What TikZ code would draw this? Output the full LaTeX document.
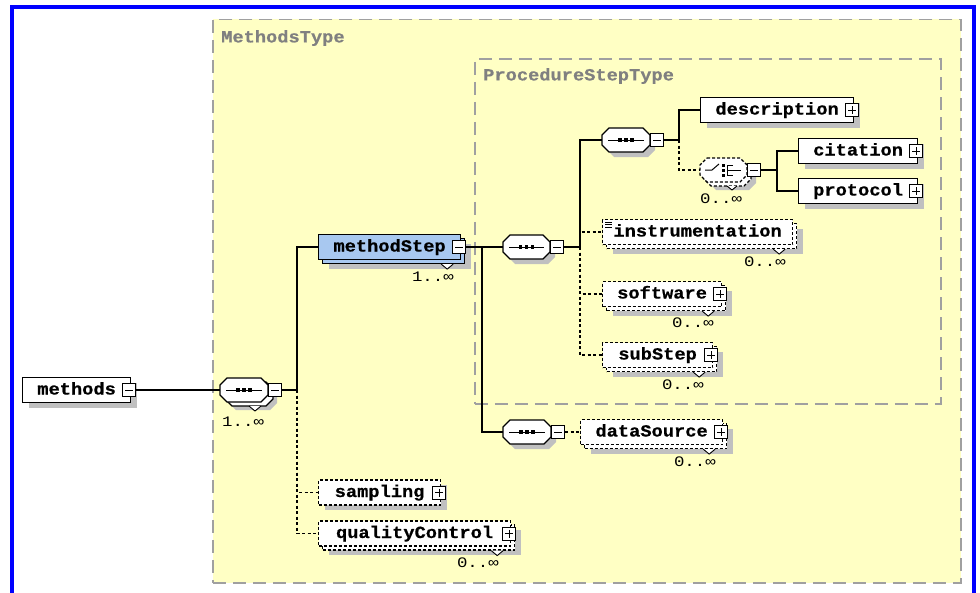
\documentclass[tikz,border=0pt]{standalone}
\usepackage{fontspec}
\newfontfamily\xsdmono{Liberation Mono}[FakeStretch=1.1,FakeBold=0.6]
\newfontfamily\xsdmult{Liberation Mono}[FakeStretch=1.2]
\usetikzlibrary{shadows,calc}
\definecolor{yel}{RGB}{255,255,196}
\definecolor{framegray}{RGB}{160,160,160}
\definecolor{shad}{RGB}{192,192,192}
\definecolor{stepblue}{RGB}{168,200,240}
\definecolor{frameblue}{RGB}{0,0,255}
\definecolor{lblgray}{RGB}{128,128,128}
\newcommand{\lblf}{\xsdmono\bfseries\fontsize{17}{17}\selectfont}
\newcommand{\multf}{\xsdmult\fontsize{14.5}{14.5}\selectfont}
\newcommand{\octo}[4]{%
  \path[#4] (#1+7,#2-12) -- (#1+#3-7,#2-12) -- (#1+#3,#2-5) -- (#1+#3,#2+5) -- (#1+#3-7,#2+12) -- (#1+7,#2+12) -- (#1,#2+5) -- (#1,#2-5) -- cycle;}
\newcommand{\seqsym}[3]{%
  \draw[line width=1pt] (#1+6,#2) -- (#1+#3-6,#2);
  \foreach \d in {-6,0,6} \fill (#1+#3/2+\d-1.8,#2-1.8) rectangle ++(3.6,3.6);}
\newcommand{\chsym}[2]{%
  \draw[line width=1pt] (#1+5,#2) -- (#1+12,#2) -- (#1+19,#2-6);
  \foreach \d in {-5,0,5} \fill (#1+21.5,#2+\d-1.5) rectangle ++(3,3);
  \draw[line width=1pt] (#1+33,#2-5) -- (#1+27.5,#2-5) -- (#1+27.5,#2+5) -- (#1+33,#2+5) (#1+27.5,#2) -- (#1+41,#2);}
\begin{document}
\begin{tikzpicture}[x=1pt,y=-1pt,line join=miter,
  container/.style={draw=framegray, fill=yel, line width=1.5pt, dash pattern=on 13pt off 7pt, inner sep=0pt, anchor=north west},
  ebox/.style={draw=black, line width=1.2pt, fill=white, minimum height=25pt, inner sep=0pt, anchor=west, font=\lblf, text height=12pt, text depth=3pt},
  shd/.style={general shadow={fill=shad, shadow xshift=6pt, shadow yshift=-5pt}},
  optb/.style={dash pattern=on 3pt off 2pt},
  blueb/.style={fill=stepblue},
  mini/.style={draw=black, line width=1pt, fill=white, minimum size=13pt, inner sep=0pt,
    path picture={\draw[line width=1pt] ([xshift=2.5pt]path picture bounding box.west) -- ([xshift=-2.5pt]path picture bounding box.east);}},
  plusi/.style={draw=black, line width=1pt, fill=white, minimum size=13pt, inner sep=0pt,
    path picture={\draw[line width=1pt] ([xshift=2.5pt]path picture bounding box.west) -- ([xshift=-2.5pt]path picture bounding box.east) ([yshift=-2.5pt]path picture bounding box.north) -- ([yshift=2.5pt]path picture bounding box.south);}},
  comp/.style={minimum width=#1, minimum height=24pt, inner sep=0pt, anchor=west},
  mult/.style={font=\multf, inner sep=0pt, anchor=east},
  ttl/.style={font=\lblf, text=lblgray, inner sep=0pt, anchor=west},
  conn/.style={draw=black, line width=1.2pt},
  dconn/.style={conn, dash pattern=on 3pt off 2.5pt},
  notch/.style={draw=black, line width=0.9pt, fill=white},
  outl/.style={fill=white, draw=black, line width=1.1pt},
]
\useasboundingbox (0,0) rectangle (980,592);
\fill[white] (0,0) rectangle (980,592);
\draw[frameblue, line width=4pt] (12,594) -- (12,7) -- (974,7) -- (974,594);

% containers
\node[container, minimum width=748pt, minimum height=563.5pt] (mtBox) at (212,18.5) {};
\node[ttl] (mtLbl) at (221,38) {MethodsType};
\node[container, minimum width=466pt, minimum height=345pt] (psBox) at (474,58) {};
\node[ttl] (psLbl) at (483,76) {ProcedureStepType};

% methods
\node[ebox, shd, minimum width=108pt] (methods) at (22,390) {methods};
\node[mini] (methodsM) at ([xshift=-2pt]methods.east) {};

% sequence A (1..inf)
\node[comp=48pt] (sqA) at (220,390) {};
\octo{229}{398}{48}{fill=shad}
\octo{225}{394}{48}{outl}
\draw[notch] (249,406) -- ++(6,5) -- ++(6,-5);
\octo{220}{390}{48}{outl}
\seqsym{220}{390}{48}
\node[mini] (sqAM) at (275,390) {};
\node[mult, anchor=west] (sqAN) at (222,422) {1..∞};

% methodStep
\node[ebox, blueb, shd, minimum width=142pt] (msBack) at (322,251) {};
\draw[notch] ([xshift=-24pt]msBack.south east) -- ++(6,5) -- ++(6,-5);
\node[ebox, blueb, minimum width=142pt] (ms) at (318,247) {methodStep};
\node[mini] (msM) at ([xshift=-2pt]ms.east) {};
\node[mult] (msN) at (454,277) {1..∞};

% sequence B
\node[comp=47pt] (sqB) at (503,247) {};
\octo{508}{252}{47}{fill=shad}
\octo{503}{247}{47}{outl}
\seqsym{503}{247}{47}
\node[mini] (sqBM) at (557,247) {};

% sequence C
\node[comp=48pt] (sqC) at (602,140) {};
\octo{607}{145}{48}{fill=shad}
\octo{602}{140}{48}{outl}
\seqsym{602}{140}{48}
\node[mini] (sqCM) at (657,140) {};

% description
\node[ebox, shd, minimum width=153pt] (desc) at (700,110) {description};
\node[plusi] (descP) at ([xshift=-2pt]desc.east) {};

% choice
\node[comp=47pt] (chC) at (700,170) {};
\octo{709}{178}{47}{fill=shad}
\octo{704}{174}{47}{outl, optb}
\draw[notch] (727,186) -- ++(5,4) -- ++(5,-4);
\octo{700}{170}{47}{outl, optb}
\chsym{700}{170}
\node[mini] (chCM) at (754,170) {};
\node[mult, anchor=west] (chCN) at (700,199) {0..∞};

% citation, protocol
\node[ebox, shd, minimum width=119pt] (cit) at (798,151) {citation};
\node[plusi] (citP) at ([xshift=-2pt]cit.east) {};
\node[ebox, shd, minimum width=119pt] (prot) at (798,191) {protocol};
\node[plusi] (protP) at ([xshift=-2pt]prot.east) {};

% instrumentation
\node[ebox, optb, shd, minimum width=190pt] (instB) at (606,236) {};
\draw[notch] ([xshift=-24pt]instB.south east) -- ++(6,5) -- ++(6,-5);
\node[ebox, optb, minimum width=190pt] (inst) at (602,232) {instrumentation};
\draw[line width=0.8pt] (605,222) -- ++(7,0) (605,224.5) -- ++(7,0) (605,227) -- ++(7,0);
\node[mult] (instN) at (786,262) {0..∞};

% software
\node[ebox, optb, shd, minimum width=119pt] (softB) at (606,298) {};
\draw[notch] ([xshift=-24pt]softB.south east) -- ++(6,5) -- ++(6,-5);
\node[ebox, optb, minimum width=119pt] (soft) at (602,294) {software};
\node[plusi] (softP) at ([xshift=-2pt]soft.east) {};
\node[mult] (softN) at (714,323) {0..∞};

% subStep
\node[ebox, optb, shd, minimum width=110pt] (subB) at (606,359) {};
\draw[notch] ([xshift=-24pt]subB.south east) -- ++(6,5) -- ++(6,-5);
\node[ebox, optb, minimum width=110pt] (sub) at (602,355) {subStep};
\node[plusi] (subP) at ([xshift=-2pt]sub.east) {};
\node[mult] (subN) at (704,385) {0..∞};

% sequence D
\node[comp=48pt] (sqD) at (503,432) {};
\octo{508}{437}{48}{fill=shad}
\octo{503}{432}{48}{outl}
\seqsym{503}{432}{48}
\node[mini] (sqDM) at (558,432) {};

% dataSource
\node[ebox, optb, shd, minimum width=142pt] (dsB) at (584,436) {};
\draw[notch] ([xshift=-24pt]dsB.south east) -- ++(6,5) -- ++(6,-5);
\node[ebox, optb, minimum width=142pt] (ds) at (580,432) {dataSource};
\node[plusi] (dsP) at ([xshift=-2pt]ds.east) {};
\node[mult] (dsN) at (716,462) {0..∞};

% sampling
\node[ebox, optb, shd, minimum width=122pt] (samp) at (318,492.5) {sampling};
\node[plusi] (sampP) at ([xshift=-2pt]samp.east) {};

% qualityControl
\node[ebox, optb, shd, minimum width=192pt] (qcB) at (322,537.5) {};
\draw[notch] ([xshift=-24pt]qcB.south east) -- ++(6,5) -- ++(6,-5);
\node[ebox, optb, minimum width=192pt] (qc) at (318,533.5) {qualityControl};
\node[plusi] (qcP) at ([xshift=-2pt]qc.east) {};
\node[mult] (qcN) at (499,563) {0..∞};

% connectors
\draw[conn] (methodsM.east) -- (sqA.west);
\coordinate (b1) at (297,390);
\draw[conn] (sqAM.east) -- (b1);
\draw[conn] (b1) |- (ms.west);
\draw[dconn] (b1) |- (samp.west);
\draw[dconn] (b1) |- (qc.west);
\coordinate (b2) at (482,247);
\draw[conn] (msM.east) -- (b2) -- (sqB.west);
\draw[conn] (b2) |- (sqD.west);
\coordinate (b3) at (580,247);
\draw[conn] (sqBM.east) -- (b3);
\draw[conn] (b3) |- (sqC.west);
\draw[dconn] (b3) |- (inst.west);
\draw[dconn] (b3) |- (soft.west);
\draw[dconn] (b3) |- (sub.west);
\draw[dconn] (sqDM.east) -- (ds.west);
\coordinate (b4) at (679,140);
\draw[conn] (sqCM.east) -- (b4);
\draw[conn] (b4) |- (desc.west);
\draw[dconn] (b4) |- (chC.west);
\coordinate (b5) at (777,170);
\draw[conn] (chCM.east) -- (b5);
\draw[conn] (b5) |- (cit.west);
\draw[conn] (b5) |- (prot.west);
\end{tikzpicture}
\end{document}
